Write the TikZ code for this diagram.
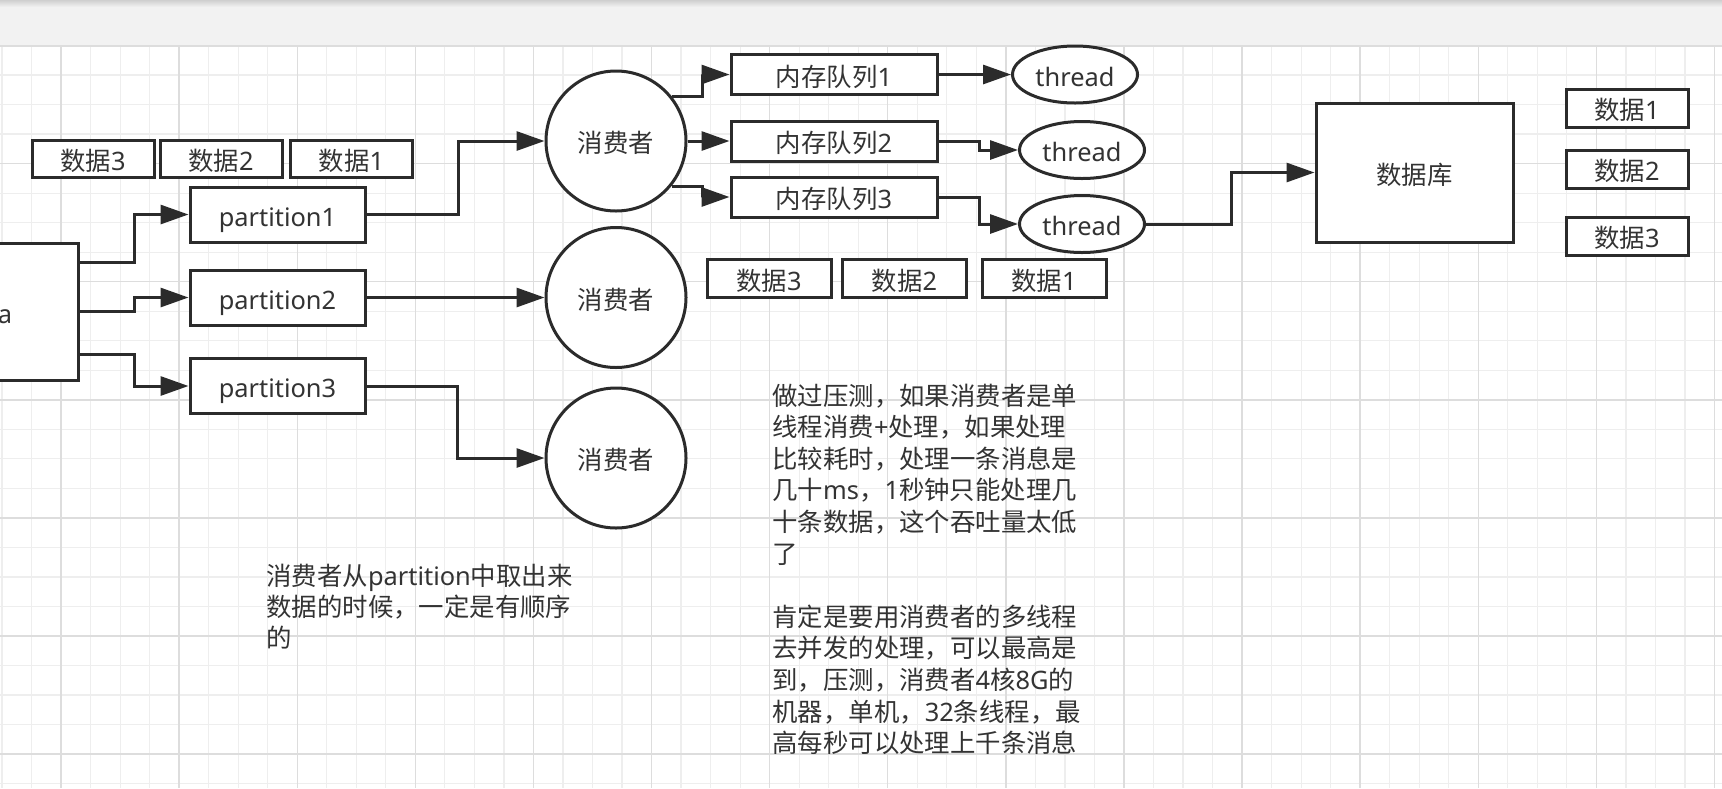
\documentclass[tikz,border=0pt]{standalone}
\usepackage{fontspec}
\setmainfont{Noto Sans}
\newfontfamily\zhfont{Noto Sans CJK SC}
\newcommand\zh[1]{{\zhfont #1}}
\usetikzlibrary{arrows.meta,shapes.geometric}
\definecolor{ink}{HTML}{333333}
\definecolor{edgec}{HTML}{2B2B2B}
\definecolor{gridminor}{HTML}{EEEEEE}
\definecolor{gridmajor}{HTML}{DDDDDD}
\definecolor{barfill}{HTML}{F2F2F2}
\definecolor{bartop}{HTML}{CFCFCF}
\begin{document}
\begin{tikzpicture}[x=0.5pt,y=-0.5pt,
  every node/.style={font=\fontsize{12.7pt}{15.6pt}\selectfont, text=ink},
  shapetext/.style={text height=12.5pt, text depth=1pt},
  box/.style={draw=edgec, line width=1.5pt, fill=white, rectangle, inner sep=0pt, shapetext},
  circ/.style={draw=edgec, line width=1.5pt, fill=white, circle, minimum size=70pt, inner sep=0pt, shapetext},
  oval/.style={draw=edgec, line width=1.5pt, fill=white, ellipse, minimum width=62.5pt, minimum height=28.5pt, inner sep=0pt, shapetext},
  arr/.style={draw=edgec, line width=1.5pt, -{Triangle[length=14pt,width=9.5pt]}},
  note/.style={anchor=base west, inner sep=0pt},
  gmin/.style={draw=gridminor, line width=0.6pt},
  gmaj/.style={draw=gridmajor, line width=0.7pt},
]
\useasboundingbox (0,0) rectangle (1722,788);
\clip (0,0) rectangle (1722,788);
\fill[white] (0,0) rectangle (1722,788);
% grid
\foreach \i in {0,...,58} {\path[gmin] ({2+\i*29.525},46) -- ({2+\i*29.525},788);}
\foreach \i in {0,...,25} {\path[gmin] (0,{45.5+\i*29.525}) -- (1722,{45.5+\i*29.525});}
\foreach \i in {0,...,14} {\path[gmaj] ({61.05+\i*118.1},46) -- ({61.05+\i*118.1},788);}
\foreach \i in {1,...,6} {\path[gmaj] (0,{45.5+\i*118.1}) -- (1722,{45.5+\i*118.1});}
% toolbar
\fill[barfill] (0,0) rectangle (1722,46);
\shade[top color=bartop, bottom color=barfill] (0,0) rectangle (1722,7);
\draw[gridmajor, line width=0.7pt] (0,46) -- (1722,46);

% left part
\node[box, minimum width=98pt, minimum height=68.5pt] (k) at (-20,311.5) {kafka};
\node[box, minimum width=61pt, minimum height=18.5pt] (d3a) at (93,158.5) {\zh{数据}3};
\node[box, minimum width=61pt, minimum height=18.5pt] (d2a) at (221,158.5) {\zh{数据}2};
\node[box, minimum width=61pt, minimum height=18.5pt] (d1a) at (351.5,158.5) {\zh{数据}1};
\node[box, minimum width=87.5pt, minimum height=27.5pt] (p1) at (277.5,214.5) {partition1};
\node[box, minimum width=87.5pt, minimum height=27.5pt] (p2) at (277.5,297.5) {partition2};
\node[box, minimum width=87.5pt, minimum height=27.5pt] (p3) at (277.5,386) {partition3};

% consumers
\node[circ] (c1) at (616,141) {\zh{消费者}};
\node[circ] (c2) at (616,297.5) {\zh{消费者}};
\node[circ] (c3) at (616,458) {\zh{消费者}};

% queues and threads
\node[box, minimum width=103pt, minimum height=20pt] (q1) at (834,74.5) {\zh{内存队列}1};
\node[box, minimum width=103pt, minimum height=20pt] (q2) at (834,141) {\zh{内存队列}2};
\node[box, minimum width=103pt, minimum height=20pt] (q3) at (834,197) {\zh{内存队列}3};
\node[oval] (t1) at (1075,74.5) {thread};
\node[oval] (t2) at (1082,150) {thread};
\node[oval] (t3) at (1082,224) {thread};

\node[box, minimum width=62pt, minimum height=19pt] (d3b) at (769,278.5) {\zh{数据}3};
\node[box, minimum width=62pt, minimum height=19pt] (d2b) at (904.5,278.5) {\zh{数据}2};
\node[box, minimum width=62pt, minimum height=19pt] (d1b) at (1044,278.5) {\zh{数据}1};

% database and right column
\node[box, minimum width=98.5pt, minimum height=69.5pt] (db) at (1414.5,172.5) {\zh{数据库}};
\node[box, minimum width=61pt, minimum height=19pt] (r1) at (1627,108) {\zh{数据}1};
\node[box, minimum width=61pt, minimum height=19pt] (r2) at (1627,169) {\zh{数据}2};
\node[box, minimum width=61pt, minimum height=19pt] (r3) at (1627,236) {\zh{数据}3};

% connectors
\draw[arr] ([yshift=24.75pt]k.east) -- ++(55,0) |- (p1.west);
\draw[arr] (k.east) -- ++(55,0) |- (p2.west);
\draw[arr] ([yshift=-21.25pt]k.east) -- ++(55,0) |- (p3.west);
\draw[arr] (p1.east) -- ++(92,0) |- (c1.west);
\draw[arr] (p2.east) -- (c2.west);
\draw[arr] (p3.east) -- ++(91,0) |- (c3.west);
\draw[arr] (c1.39) -- ++(31,0) |- (q1.west);
\draw[arr] (c1.east) -- (q2.west);
\draw[arr] (c1.-39) -- ++(31,0) |- (q3.west);
\draw[arr] (q1.east) -- (t1.west);
\draw[arr] (q2.east) -- ++(41,0) |- (t2.west);
\draw[arr] (q3.east) -- ++(41,0) |- (t3.west);
\draw[arr] (t3.east) -- ++(85.5,0) |- (db.west);

% notes
\node[note] (n1) at (266,585) {\parbox[t]{200pt}{\fontsize{12.7pt}{15.6pt}\selectfont
\zh{消费者从}partition\zh{中取出来}\\
\zh{数据的时候，一定是有顺序}\\
\zh{的}}};
\node[note] (n2) at (772,405) {\parbox[t]{200pt}{\fontsize{12.7pt}{15.8pt}\selectfont
\zh{做过压测，如果消费者是单}\\
\zh{线程消费}+\zh{处理，如果处理}\\
\zh{比较耗时，处理一条消息是}\\
\zh{几十}ms\zh{，}1\zh{秒钟只能处理几}\\
\zh{十条数据，这个吞吐量太低}\\
\zh{了}\\[15.8pt]
\zh{肯定是要用消费者的多线程}\\
\zh{去并发的处理，可以最高是}\\
\zh{到，压测，消费者}4\zh{核}8G\zh{的}\\
\zh{机器，单机，}32\zh{条线程，最}\\
\zh{高每秒可以处理上千条消息}}};
\end{tikzpicture}
\end{document}
